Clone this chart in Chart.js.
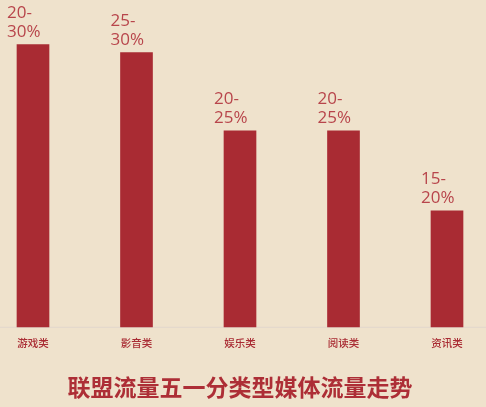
<!DOCTYPE html>
<html>
<head>
<meta charset="utf-8">
<script src="https://cdn.jsdelivr.net/npm/chart.js@4"></script>
<style>
  html, body { margin: 0; padding: 0; background: #efe2cc; }
  #wrap { width: 486px; height: 407px; position: relative; }
</style>
</head>
<body>
<div id="wrap"><canvas id="myChart"></canvas></div>
<script>
// 数据
var categories = ['游戏类', '影音类', '娱乐类', '阅读类', '资讯类'];
var barValues = [36, 35, 25, 25, 14.8];
var rangeLabels = [['20-', '30%'], ['25-', '30%'], ['20-', '25%'], ['20-', '25%'], ['15-', '20%']];
var chartTitle = '联盟流量五一分类型媒体流量走势';

var barColor = '#a92b33';
var textColor = '#b8454b';

// 柱子上方的区间标签
var rangeLabelPlugin = {
    id: 'rangeLabels',
    afterDatasetsDraw: function(chart) {
        var ctx = chart.ctx;
        var meta = chart.getDatasetMeta(0);
        ctx.save();
        ctx.font = '17px "Open Sans", "Noto Sans", sans-serif';
        ctx.fillStyle = textColor;
        ctx.textAlign = 'left';
        ctx.textBaseline = 'alphabetic';
        meta.data.forEach(function(bar, i) {
            var lines = rangeLabels[i];
            var x = bar.x - 26;
            var y = bar.y - 8;
            ctx.fillText(lines[1], x, y);
            ctx.fillText(lines[0], x, y - 19);
        });
        ctx.restore();
    }
};

var ctx = document.getElementById('myChart').getContext('2d');
new Chart(ctx, {
    type: 'bar',
    data: {
        labels: categories,
        datasets: [{
            data: barValues,
            backgroundColor: barColor,
            borderWidth: 0,
            barThickness: 32,
            clip: false
        }]
    },
    options: {
        responsive: true,
        maintainAspectRatio: false,
        animation: false,
        layout: { padding: { left: 33, right: 39, top: 0, bottom: 0 } },
        plugins: {
            legend: { display: false },
            tooltip: { enabled: false },
            title: {
                display: true,
                position: 'bottom',
                text: chartTitle,
                color: '#ad2e36',
                font: { size: 23, weight: 'bold', family: '"Noto Sans CJK SC", sans-serif' },
                padding: { top: 14, bottom: 6 }
            }
        },
        scales: {
            x: {
                offset: false,
                grid: { display: false, drawTicks: false },
                border: { display: false },
                ticks: {
                    color: '#a92b33',
                    font: { size: 10.5, weight: '500', family: '"Noto Sans CJK SC", sans-serif' },
                    padding: 10,
                    maxRotation: 0
                }
            },
            y: {
                display: false,
                min: 0,
                max: 41.7
            }
        }
    },
    plugins: [rangeLabelPlugin, {
        id: 'baseLine',
        beforeDatasetsDraw: function(chart) {
            var c = chart.ctx;
            var yb = chart.scales.y.getPixelForValue(0);
            c.save();
            c.strokeStyle = '#e2d8cc';
            c.lineWidth = 1;
            c.beginPath();
            c.moveTo(0, yb + 0.5);
            c.lineTo(chart.width, yb + 0.5);
            c.stroke();
            c.restore();
        }
    }]
});
</script>
</body>
</html>
